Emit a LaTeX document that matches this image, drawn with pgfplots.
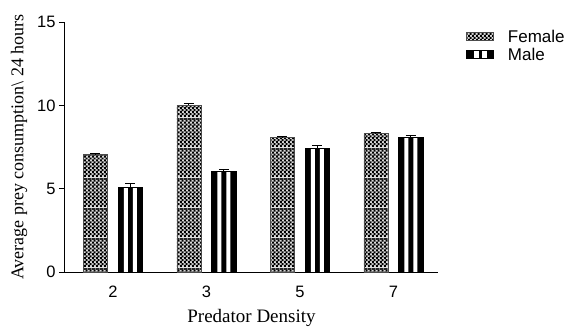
\documentclass[border=0pt]{standalone}
\usepackage{pgfplots}
\pgfplotsset{compat=1.18}
\usepackage{pgfplotstable}
\usetikzlibrary{patterns.meta}
\usepackage{fontspec}
\setmainfont{Liberation Sans}
\newfontfamily\serifont{Liberation Serif}

\tikzdeclarepattern{
  name=femchk,
  type=colored,
  bottom left={(0pt,0pt)},
  top right={(4pt,30pt)},
  tile size={(4pt,30pt)},
  code={
    \fill[black!15] (0pt,0pt) rectangle (4pt,30pt);
    \foreach \i in {0,4,8,12,16,20,24} {
      \fill[black] (0pt,\i pt) rectangle (2.2pt,\i pt+2.2pt);
      \fill[black] (2pt,\i pt+2pt) rectangle (4pt,\i pt+4pt);
    }
    \fill[black!85] (0pt,28pt) rectangle (4pt,30pt);
  }
}

\pgfplotstableread{
x f fe m me
0 7.06 0.05 5.08 0.22
1 10.0 0.12 6.06 0.12
2 8.06 0.05 7.44 0.15
3 8.30 0.08 8.06 0.15
}\data

\begin{document}
\begin{tikzpicture}
\useasboundingbox (-65pt,-55pt) rectangle (509pt,272pt);
\begin{axis}[
  scale only axis,
  width=373pt, height=250pt,
  xmin=-0.513, xmax=3.476,
  ymin=0, ymax=15,
  axis x line*=bottom, axis y line*=left,
  axis line style={-, line width=1pt, black},
  ytick={0,5,10,15},
  xtick={0,1,2,3}, xticklabels={2,3,5,7},
  tick align=outside,
  major tick length=6pt,
  xtick style={draw=none},
  ytick style={line width=1pt, black},
  /pgf/number format/assume math mode=true,
  ticklabel style={font=\fontsize{16.5}{18}\selectfont},
  xticklabel style={anchor=base, yshift=-19pt},
  xlabel={Predator Density},
  ylabel={Average prey consumption\textbackslash{} 24 hours},
  xlabel style={font=\serifont\fontsize{19}{21}\selectfont, at={(axis description cs:0.5,0)}, anchor=base, yshift=-50pt},
  ylabel style={font=\serifont\fontsize{18}{20}\selectfont, at={(axis description cs:-0.123,0.5)}, anchor=center},
  legend style={draw=none, at={(axis description cs:1.067,0.985)}, anchor=north west,
    font=\fontsize{17}{19}\selectfont, row sep=0pt, column sep=12pt},
  legend cell align=left,
  ybar,
]
\addlegendimage{legend image code/.code={\draw[black!70, line width=0.8pt, pattern=femchk] (0pt,-4pt) rectangle (27pt,4pt);}}
\addlegendentry{Female}
\addlegendimage{legend image code/.code={\fill[black] (0pt,-4pt) rectangle (27pt,4pt); \fill[white] (8pt,-3pt) rectangle (12pt,3pt); \fill[white] (16pt,-3pt) rectangle (20pt,3pt);}}
\addlegendentry{Male}

% Female
\addplot[forget plot, ybar, bar shift=-17.5pt, bar width=24pt, draw=black!70, line width=0.8pt, pattern=femchk,
  error bars/.cd, y dir=plus, y explicit, error bar style={line width=1pt, black}, error mark options={rotate=90, mark size=5pt, line width=1pt, black}]
  table[x=x, y=f, y error=fe] {\data};
% Male
\addplot[forget plot, ybar, bar shift=17.5pt, bar width=24pt, fill=black, draw=black, line width=0.8pt] table[x=x, y=m] {\data};
\addplot[forget plot, ybar, bar shift=13pt, bar width=4pt, fill=white, draw=none] table[x=x, y=m] {\data};
\addplot[forget plot, ybar, bar shift=22pt, bar width=4pt, fill=white, draw=none] table[x=x, y=m] {\data};
\addplot[forget plot, ybar, bar shift=17.5pt, bar width=24pt, fill=none, draw=black, line width=1pt,
  error bars/.cd, y dir=plus, y explicit, error bar style={line width=1pt, black}, error mark options={rotate=90, mark size=5pt, line width=1pt, black}]
  table[x=x, y=m, y error=me] {\data};
\end{axis}
\end{tikzpicture}
\end{document}
